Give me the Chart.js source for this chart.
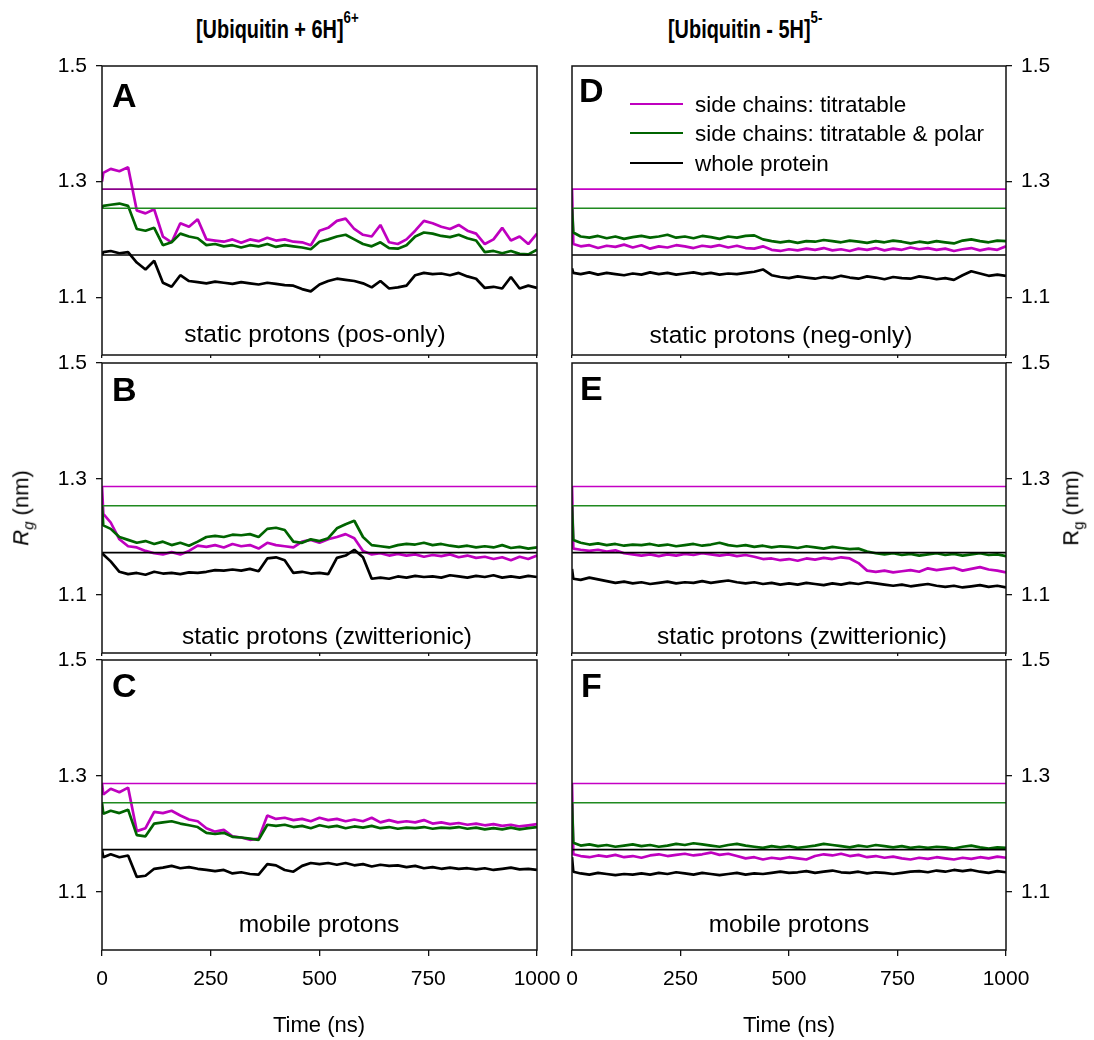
<!DOCTYPE html>
<html>
<head>
<meta charset="utf-8">
<script src="https://cdn.jsdelivr.net/npm/chart.js@4.4.1/dist/chart.umd.min.js"></script>
<style>
  body { margin: 0; background: #fff; }
  #wrap { position: relative; width: 1094px; height: 1040px; overflow: hidden;
          font-family: "Liberation Sans", Arial, sans-serif; color: #000; }
  #wrap canvas { position: absolute; }
  .lbl { position: absolute; white-space: nowrap; }
  .ttl { font-weight: bold; transform-origin: 0 0; transform: scaleX(0.78); }
  .ttl sup { font-size: 17px; line-height: 0; position: relative; top: -6px; }
  .leg { position: absolute; left: 630px; width: 53px; height: 2px; }
</style>
</head>
<body>
<div id="wrap">
  <canvas id="pA"></canvas><canvas id="pB"></canvas><canvas id="pC"></canvas>
  <canvas id="pD"></canvas><canvas id="pE"></canvas><canvas id="pF"></canvas>
</div>
<script>
// time axis (ns), shared by all traces
const timeNs = [0, 3,
  20, 40, 60, 80, 100, 120, 140, 160, 180, 200,
  220, 240, 260, 280, 300, 320, 340, 360, 380, 400,
  420, 440, 460, 480, 500, 520, 540, 560, 580, 600,
  620, 640, 660, 680, 700, 720, 740, 760, 780, 800,
  820, 840, 860, 880, 900, 920, 940, 960, 980, 1000];

// reference Rg (nm) of the crystal structure: titratable, titratable & polar, whole protein
const crystalRg = [1.287, 1.254, 1.173];

const seriesNames = ["side chains: titratable", "side chains: titratable & polar", "whole protein"];
const yTicks = [1.1, 1.3, 1.5];
const xTicks = [0, 250, 500, 750, 1000];

// A: [Ubiquitin + 6H]6+, static protons (pos-only)
const aTitr = [1.300, 1.315,
  1.322, 1.318, 1.325, 1.250, 1.245, 1.252, 1.205, 1.195, 1.228, 1.222,
  1.235, 1.200, 1.198, 1.196, 1.200, 1.194, 1.200, 1.197, 1.203, 1.198,
  1.200, 1.196, 1.195, 1.190, 1.215, 1.220, 1.232, 1.236, 1.218, 1.208,
  1.205, 1.225, 1.195, 1.192, 1.200, 1.215, 1.232, 1.228, 1.222, 1.218,
  1.225, 1.215, 1.210, 1.192, 1.200, 1.220, 1.198, 1.205, 1.192, 1.210];
const aPolar = [1.254, 1.258,
  1.260, 1.262, 1.258, 1.218, 1.215, 1.220, 1.190, 1.195, 1.210, 1.205,
  1.202, 1.190, 1.192, 1.188, 1.190, 1.186, 1.190, 1.188, 1.192, 1.187,
  1.190, 1.188, 1.186, 1.183, 1.196, 1.200, 1.205, 1.208, 1.200, 1.192,
  1.188, 1.195, 1.185, 1.184, 1.190, 1.205, 1.212, 1.210, 1.206, 1.204,
  1.208, 1.202, 1.198, 1.178, 1.180, 1.176, 1.180, 1.175, 1.174, 1.182];
const aWhole = [1.173, 1.178,
  1.180, 1.176, 1.178, 1.160, 1.148, 1.163, 1.125, 1.118, 1.138, 1.128,
  1.126, 1.124, 1.127, 1.125, 1.123, 1.126, 1.124, 1.122, 1.125, 1.123,
  1.121, 1.120, 1.114, 1.110, 1.122, 1.128, 1.132, 1.130, 1.128, 1.124,
  1.117, 1.128, 1.115, 1.117, 1.120, 1.138, 1.142, 1.140, 1.141, 1.138,
  1.142, 1.136, 1.132, 1.116, 1.118, 1.115, 1.135, 1.115, 1.120, 1.116];

// B: [Ubiquitin + 6H]6+, static protons (zwitterionic)
const bTitr = [1.288, 1.240,
  1.225, 1.196, 1.184, 1.182, 1.176, 1.172, 1.170, 1.174, 1.170, 1.176,
  1.185, 1.183, 1.186, 1.182, 1.188, 1.184, 1.186, 1.180, 1.190, 1.186,
  1.184, 1.182, 1.192, 1.195, 1.190, 1.196, 1.200, 1.205, 1.198, 1.176,
  1.170, 1.172, 1.168, 1.171, 1.168, 1.170, 1.166, 1.169, 1.167, 1.170,
  1.165, 1.168, 1.164, 1.166, 1.162, 1.165, 1.160, 1.166, 1.162, 1.168];
const bPolar = [1.254, 1.220,
  1.214, 1.200, 1.195, 1.190, 1.193, 1.188, 1.192, 1.186, 1.190, 1.185,
  1.192, 1.200, 1.202, 1.200, 1.204, 1.203, 1.205, 1.200, 1.214, 1.216,
  1.212, 1.192, 1.190, 1.196, 1.193, 1.198, 1.215, 1.222, 1.228, 1.200,
  1.186, 1.184, 1.182, 1.186, 1.188, 1.187, 1.190, 1.186, 1.188, 1.185,
  1.183, 1.185, 1.182, 1.184, 1.182, 1.186, 1.181, 1.183, 1.180, 1.182];
const bWhole = [1.173, 1.170,
  1.158, 1.140, 1.136, 1.138, 1.135, 1.140, 1.137, 1.138, 1.136, 1.139,
  1.138, 1.140, 1.143, 1.142, 1.144, 1.142, 1.145, 1.141, 1.163, 1.165,
  1.160, 1.138, 1.140, 1.137, 1.138, 1.136, 1.164, 1.168, 1.178, 1.165,
  1.128, 1.130, 1.128, 1.132, 1.130, 1.133, 1.131, 1.132, 1.130, 1.134,
  1.132, 1.130, 1.133, 1.131, 1.134, 1.130, 1.132, 1.130, 1.133, 1.131];

// C: [Ubiquitin + 6H]6+, mobile protons
const cTitr = [1.288, 1.268,
  1.278, 1.272, 1.280, 1.205, 1.210, 1.238, 1.236, 1.240, 1.232, 1.225,
  1.222, 1.210, 1.204, 1.207, 1.196, 1.194, 1.190, 1.192, 1.232, 1.226,
  1.228, 1.224, 1.226, 1.222, 1.228, 1.224, 1.226, 1.222, 1.225, 1.222,
  1.228, 1.220, 1.224, 1.220, 1.222, 1.220, 1.224, 1.218, 1.220, 1.217,
  1.219, 1.216, 1.218, 1.215, 1.217, 1.214, 1.216, 1.213, 1.215, 1.217];
const cPolar = [1.254, 1.235,
  1.240, 1.236, 1.242, 1.198, 1.196, 1.218, 1.220, 1.222, 1.218, 1.215,
  1.212, 1.202, 1.200, 1.202, 1.195, 1.194, 1.192, 1.190, 1.216, 1.214,
  1.216, 1.212, 1.214, 1.210, 1.215, 1.212, 1.214, 1.210, 1.213, 1.211,
  1.214, 1.210, 1.212, 1.209, 1.211, 1.210, 1.212, 1.209, 1.211, 1.210,
  1.212, 1.209, 1.211, 1.208, 1.210, 1.208, 1.211, 1.208, 1.210, 1.212];
const cWhole = [1.173, 1.160,
  1.165, 1.160, 1.163, 1.126, 1.128, 1.140, 1.142, 1.145, 1.141, 1.143,
  1.140, 1.138, 1.136, 1.138, 1.132, 1.134, 1.131, 1.130, 1.148, 1.146,
  1.138, 1.135, 1.145, 1.150, 1.148, 1.150, 1.147, 1.150, 1.146, 1.148,
  1.144, 1.147, 1.145, 1.146, 1.143, 1.145, 1.141, 1.143, 1.140, 1.142,
  1.140, 1.141, 1.139, 1.141, 1.138, 1.140, 1.142, 1.139, 1.140, 1.138];

// D: [Ubiquitin - 5H]5-, static protons (neg-only)
const dTitr = [1.287, 1.192,
  1.188, 1.190, 1.185, 1.189, 1.187, 1.191, 1.186, 1.190, 1.184, 1.188,
  1.186, 1.190, 1.188, 1.185, 1.189, 1.187, 1.190, 1.186, 1.189, 1.185,
  1.184, 1.188, 1.182, 1.180, 1.183, 1.181, 1.184, 1.182, 1.185, 1.181,
  1.183, 1.180, 1.184, 1.182, 1.185, 1.181, 1.184, 1.182, 1.186, 1.183,
  1.185, 1.182, 1.184, 1.180, 1.183, 1.185, 1.181, 1.184, 1.182, 1.188];
const dPolar = [1.254, 1.212,
  1.205, 1.203, 1.206, 1.202, 1.205, 1.201, 1.204, 1.206, 1.203, 1.205,
  1.208, 1.203, 1.205, 1.202, 1.206, 1.204, 1.201, 1.205, 1.203, 1.206,
  1.207, 1.200, 1.197, 1.195, 1.197, 1.194, 1.197, 1.196, 1.199, 1.197,
  1.195, 1.198, 1.196, 1.194, 1.197, 1.195, 1.198, 1.196, 1.193, 1.196,
  1.194, 1.197, 1.195, 1.193, 1.198, 1.200, 1.197, 1.195, 1.198, 1.197];
const dWhole = [1.150, 1.142,
  1.140, 1.143, 1.139, 1.142, 1.140, 1.138, 1.141, 1.139, 1.143, 1.140,
  1.142, 1.139, 1.141, 1.143, 1.140, 1.142, 1.139, 1.141, 1.140, 1.142,
  1.144, 1.148, 1.138, 1.135, 1.133, 1.136, 1.134, 1.132, 1.135, 1.133,
  1.137, 1.134, 1.132, 1.136, 1.134, 1.131, 1.135, 1.133, 1.132, 1.136,
  1.134, 1.131, 1.133, 1.130, 1.138, 1.145, 1.141, 1.137, 1.139, 1.137];

// E: [Ubiquitin - 5H]5-, static protons (zwitterionic)
const eTitr = [1.288, 1.180,
  1.178, 1.176, 1.178, 1.175, 1.177, 1.172, 1.170, 1.168, 1.170, 1.167,
  1.170, 1.168, 1.171, 1.169, 1.172, 1.170, 1.168, 1.170, 1.167, 1.169,
  1.166, 1.162, 1.163, 1.160, 1.162, 1.159, 1.163, 1.161, 1.164, 1.162,
  1.165, 1.163, 1.155, 1.142, 1.140, 1.142, 1.139, 1.141, 1.143, 1.140,
  1.146, 1.143, 1.145, 1.147, 1.142, 1.145, 1.148, 1.144, 1.142, 1.139];
const ePolar = [1.254, 1.195,
  1.190, 1.187, 1.189, 1.186, 1.188, 1.185, 1.187, 1.186, 1.188, 1.185,
  1.187, 1.184, 1.186, 1.188, 1.185, 1.187, 1.190, 1.186, 1.184, 1.186,
  1.183, 1.185, 1.182, 1.184, 1.183, 1.181, 1.184, 1.182, 1.180, 1.183,
  1.181, 1.179, 1.180, 1.175, 1.172, 1.170, 1.172, 1.169, 1.171, 1.168,
  1.170, 1.172, 1.169, 1.171, 1.168, 1.170, 1.172, 1.169, 1.170, 1.167];
const eWhole = [1.145, 1.128,
  1.126, 1.130, 1.127, 1.124, 1.121, 1.123, 1.120, 1.122, 1.119, 1.121,
  1.123, 1.120, 1.122, 1.121, 1.124, 1.121, 1.123, 1.125, 1.122, 1.120,
  1.122, 1.119, 1.121, 1.118, 1.120, 1.118, 1.121, 1.119, 1.117, 1.120,
  1.118, 1.121, 1.119, 1.122, 1.120, 1.118, 1.116, 1.118, 1.115, 1.117,
  1.119, 1.116, 1.114, 1.116, 1.113, 1.115, 1.117, 1.114, 1.116, 1.113];

// F: [Ubiquitin - 5H]5-, mobile protons
const fTitr = [1.288, 1.165,
  1.162, 1.160, 1.163, 1.161, 1.164, 1.160, 1.162, 1.159, 1.163, 1.165,
  1.162, 1.164, 1.166, 1.163, 1.165, 1.168, 1.164, 1.166, 1.162, 1.158,
  1.160, 1.156, 1.159, 1.157, 1.160, 1.158, 1.156, 1.162, 1.165, 1.163,
  1.166, 1.162, 1.164, 1.160, 1.162, 1.159, 1.161, 1.158, 1.156, 1.159,
  1.157, 1.160, 1.158, 1.156, 1.159, 1.157, 1.160, 1.158, 1.161, 1.159];
const fPolar = [1.254, 1.185,
  1.180, 1.182, 1.179, 1.181, 1.178, 1.180, 1.182, 1.179, 1.181, 1.178,
  1.180, 1.183, 1.181, 1.184, 1.182, 1.180, 1.178, 1.181, 1.183, 1.180,
  1.178, 1.176, 1.179, 1.177, 1.179, 1.176, 1.178, 1.180, 1.183, 1.181,
  1.179, 1.177, 1.180, 1.178, 1.181, 1.179, 1.177, 1.179, 1.176, 1.178,
  1.176, 1.178, 1.177, 1.175, 1.178, 1.180, 1.177, 1.175, 1.177, 1.176];
const fWhole = [1.160, 1.135,
  1.132, 1.130, 1.133, 1.131, 1.129, 1.131, 1.130, 1.132, 1.130, 1.133,
  1.131, 1.134, 1.132, 1.130, 1.133, 1.131, 1.129, 1.131, 1.133, 1.130,
  1.132, 1.131, 1.133, 1.135, 1.133, 1.134, 1.136, 1.133, 1.135, 1.137,
  1.134, 1.133, 1.135, 1.132, 1.134, 1.133, 1.131, 1.133, 1.135, 1.136,
  1.134, 1.137, 1.135, 1.138, 1.136, 1.138, 1.135, 1.133, 1.136, 1.134];

const colors = ["#bf00bf", "#006400", "#000000"];
const refColors = ["#c400c4", "#1f8a1f", "#000000"];

Chart.defaults.font.family = '"Liberation Sans", Arial, sans-serif';
Chart.defaults.font.size = 21;
Chart.defaults.color = "#000";

// box round the plot area
const framePlugin = {
  id: "frame",
  afterDatasetsDraw(chart) {
    const { ctx, chartArea: a } = chart;
    ctx.save();
    ctx.strokeStyle = "#111";
    ctx.lineWidth = 1.5;
    ctx.strokeRect(a.left, a.top, a.right - a.left, a.bottom - a.top);
    ctx.restore();
  },
};

const toPoints = (ys) => ys.map((y, i) => ({ x: timeNs[i], y: y }));

// col 0 = left, 1 = right; row 0..2
function makePanel(id, col, row, series, refTop) {
  const cv = document.getElementById(id);
  const isLeft = col === 0;
  const isBottom = row === 2;
  const w = isLeft ? 562 : 534;
  const tops = [46, 343, 640];
  const h = [313, 314, 400][row];
  cv.width = w; cv.height = h;
  cv.style.left = (isLeft ? 0 : 560) + "px";
  cv.style.top = tops[row] + "px";

  const refs = crystalRg.map((r, k) => ({
    data: [{ x: 0, y: r }, { x: 1000, y: r }],
    borderColor: k === 0 && refTop ? refTop : refColors[k],
    borderWidth: 1.6,
  }));
  // green drawn over magenta, reference lines on top
  const traces = [1, 0, 2].map((k) => ({
    label: seriesNames[k],
    data: toPoints(series[k]),
    borderColor: colors[k],
    borderWidth: 2.7,
  }));

  new Chart(cv, {
    type: "line",
    data: { datasets: refs.concat(traces) },
    options: {
      responsive: false,
      animation: false,
      events: [],
      layout: {
        autoPadding: false,
        padding: { top: 20, bottom: 0, left: isLeft ? 0 : 12, right: isLeft ? 25 : 0 },
      },
      elements: { point: { radius: 0 }, line: { tension: 0, borderJoinStyle: "bevel" } },
      plugins: { legend: { display: false }, tooltip: { enabled: false } },
      scales: {
        x: {
          type: "linear",
          min: 0,
          max: 1000,
          afterBuildTicks: (s) => { s.ticks = xTicks.map((v) => ({ value: v })); },
          afterFit: (s) => {
            s.height = isBottom ? 90 : 4;
            s.paddingLeft = 0; s.paddingRight = 0;
          },
          border: { display: false },
          grid: { drawOnChartArea: false, drawTicks: true, tickLength: isBottom ? 6 : 3, color: "#111", lineWidth: 1.3 },
          ticks: { display: isBottom, padding: 11, maxRotation: 0, font: { size: 21 }, callback: (v) => String(v) },
        },
        y: {
          type: "linear",
          position: isLeft ? "left" : "right",
          min: 1.0,
          max: 1.5,
          afterBuildTicks: (s) => { s.ticks = yTicks.map((v) => ({ value: v })); },
          afterFit: (s) => {
            s.width = isLeft ? 102 : 88;
            s.paddingTop = 0; s.paddingBottom = 0;
          },
          border: { display: false },
          grid: { drawOnChartArea: false, drawTicks: true, tickLength: 6, color: "#111", lineWidth: 1.3 },
          ticks: { padding: 9, font: { size: 21 }, callback: (v) => v.toFixed(1) },
        },
      },
    },
    plugins: [framePlugin],
  });
}

makePanel("pA", 0, 0, [aTitr, aPolar, aWhole], "#8a008a");
makePanel("pB", 0, 1, [bTitr, bPolar, bWhole]);
makePanel("pC", 0, 2, [cTitr, cPolar, cWhole]);
makePanel("pD", 1, 0, [dTitr, dPolar, dWhole]);
makePanel("pE", 1, 1, [eTitr, ePolar, eWhole]);
makePanel("pF", 1, 2, [fTitr, fPolar, fWhole]);

// text placed by baseline (Liberation Sans ascent .905, descent .212)
const wrap = document.getElementById("wrap");
function addText(html, x, baseline, size, opts) {
  opts = opts || {};
  const d = document.createElement("div");
  d.className = "lbl" + (opts.cls ? " " + opts.cls : "");
  d.innerHTML = html;
  d.style.fontSize = size + "px";
  d.style.lineHeight = size + "px";
  d.style.top = (baseline - 0.8465 * size) + "px";
  d.style.left = x + "px";
  if (opts.bold) d.style.fontWeight = "bold";
  if (opts.center) d.style.transform = "translateX(-50%)";
  wrap.appendChild(d);
  return d;
}

addText("[Ubiquitin + 6H]<sup>6+</sup>", 196, 39, 25.5, { cls: "ttl" });
addText("[Ubiquitin - 5H]<sup>5-</sup>", 668, 39, 25.5, { cls: "ttl" });

const letters = [["A", 112, 107], ["B", 112, 401], ["C", 112, 697],
                 ["D", 579, 102], ["E", 580, 400], ["F", 581, 697]];
letters.forEach(([t, x, b]) => addText(t, x, b, 34, { bold: true }));

const captions = [["static protons (pos-only)", 315, 343], ["static protons (zwitterionic)", 327, 645],
                  ["mobile protons", 319, 933], ["static protons (neg-only)", 781, 344],
                  ["static protons (zwitterionic)", 802, 645], ["mobile protons", 789, 933]];
captions.forEach(([t, x, b]) => addText(t, x, b, 24.5, { center: true }));

addText("Time (ns)", 319, 1033, 22, { center: true });
addText("Time (ns)", 789, 1033, 22, { center: true });

// y axis titles, rotated
const yl = addText('<i>R<sub style="font-size:15px">g</sub></i> (nm)', 25, 508, 22);
yl.style.top = "508px"; yl.style.transform = "translate(-50%,-50%) rotate(-90deg)";
const yr = addText('R<sub style="font-size:15px">g</sub> (nm)', 1075, 508, 22);
yr.style.top = "508px"; yr.style.transform = "translate(-50%,-50%) rotate(-90deg)";

// legend in panel D
[104.3, 133.3, 162.7].forEach((y, k) => {
  const ln = document.createElement("div");
  ln.className = "leg";
  ln.style.top = (y - 1) + "px";
  ln.style.background = colors[k];
  wrap.appendChild(ln);
  addText(seriesNames[k], 695, y + 9, 22.5);
});
</script>
</body>
</html>
